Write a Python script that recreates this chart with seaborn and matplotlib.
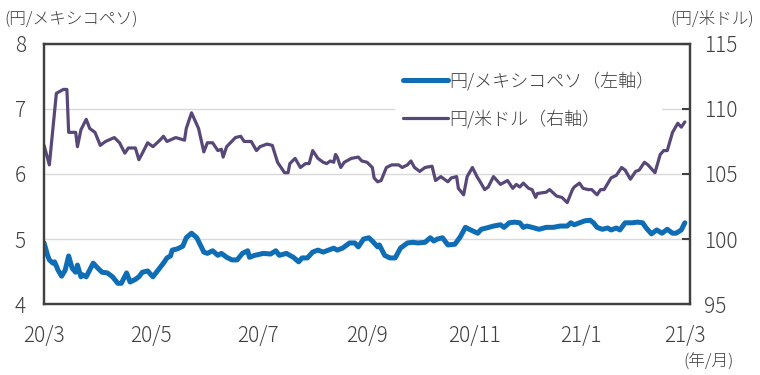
import pandas as pd
import seaborn as sns
import matplotlib.pyplot as plt
from matplotlib.lines import Line2D

# days counted from 2020-03-01
start = pd.Timestamp('2020-03-01')

mxn_days = [0, 2, 3, 5, 6, 8, 10, 12, 14, 16, 18, 19, 21, 22, 24, 28, 30, 33, 36, 39,
            42, 44, 47, 49, 52, 54, 56, 59, 62, 64, 68, 70, 72, 73, 76, 79, 81, 84, 87, 89,
            91, 93, 96, 99, 101, 104, 107, 110, 113, 116, 117, 120, 125, 129, 132, 134, 138, 142, 145, 147,
            150, 153, 156, 159, 162, 165, 167, 170, 174, 177, 179, 182, 185, 187, 190, 191, 194, 197, 200, 203,
            207, 210, 213, 217, 220, 222, 224, 227, 230, 234, 237, 240, 243, 247, 249, 252, 256, 260, 262, 265,
            268, 271, 273, 275, 278, 282, 286, 290, 294, 298, 300, 302, 305, 308, 311, 313, 315, 318, 321, 323,
            326, 328, 331, 335, 338, 341, 343, 346, 349, 352, 355, 358, 360, 363, 365]
mxn_rate = [4.94, 4.75, 4.68, 4.63, 4.65, 4.52, 4.43, 4.52, 4.74, 4.55, 4.49, 4.60, 4.42, 4.45, 4.42, 4.63, 4.57, 4.49, 4.48, 4.42,
            4.32, 4.32, 4.48, 4.34, 4.38, 4.42, 4.49, 4.51, 4.42, 4.49, 4.63, 4.71, 4.74, 4.83, 4.85, 4.89, 5.02, 5.09, 5.02, 4.91,
            4.80, 4.78, 4.82, 4.75, 4.78, 4.72, 4.68, 4.68, 4.78, 4.82, 4.72, 4.75, 4.78, 4.77, 4.82, 4.75, 4.78, 4.72, 4.65, 4.71,
            4.71, 4.80, 4.83, 4.80, 4.83, 4.86, 4.83, 4.86, 4.94, 4.94, 4.88, 5.00, 5.02, 4.97, 4.88, 4.91, 4.75, 4.71, 4.71, 4.86,
            4.94, 4.95, 4.94, 4.95, 5.02, 4.97, 5.00, 5.02, 4.91, 4.92, 5.03, 5.18, 5.14, 5.09, 5.15, 5.17, 5.20, 5.22, 5.18, 5.25,
            5.26, 5.25, 5.18, 5.20, 5.18, 5.15, 5.18, 5.18, 5.20, 5.20, 5.25, 5.22, 5.25, 5.28, 5.29, 5.25, 5.18, 5.15, 5.17, 5.14,
            5.17, 5.14, 5.25, 5.25, 5.26, 5.25, 5.17, 5.08, 5.14, 5.09, 5.15, 5.09, 5.09, 5.14, 5.25]

usd_days = [0, 3, 7, 11, 13, 14, 18, 19, 21, 24, 26, 29, 32, 35, 40, 43, 46, 48, 52, 54,
            56, 59, 62, 66, 68, 70, 75, 80, 81, 84, 88, 91, 93, 96, 99, 101, 102, 104, 109, 112,
            114, 118, 121, 123, 127, 130, 133, 137, 139, 140, 143, 146, 149, 151, 153, 156, 159, 161, 163, 165,
            166, 167, 169, 171, 175, 179, 181, 184, 187, 188, 190, 192, 195, 198, 202, 204, 207, 209, 211, 214,
            217, 221, 223, 226, 227, 230, 232, 235, 236, 239, 241, 244, 247, 248, 251, 253, 256, 260, 264, 267,
            269, 271, 273, 276, 278, 280, 281, 286, 288, 292, 295, 298, 301, 302, 305, 307, 310, 312, 315, 317,
            319, 323, 326, 329, 331, 334, 337, 339, 342, 344, 348, 351, 353, 355, 358, 361, 363, 365]
usd_rate = [107.2, 105.7, 111.2, 111.5, 111.5, 108.2, 108.2, 107.1, 108.4, 109.2, 108.5, 108.2, 107.2, 107.5, 107.8, 107.4, 106.6, 107.0, 107.0, 106.1,
            106.6, 107.4, 107.1, 107.6, 107.9, 107.5, 107.8, 107.6, 108.5, 109.7, 108.5, 106.7, 107.4, 107.4, 106.8, 106.9, 106.3, 107.1, 107.8, 107.9,
            107.5, 107.5, 106.8, 107.1, 107.3, 107.2, 105.9, 105.1, 105.1, 105.8, 106.2, 105.5, 105.8, 105.8, 106.8, 106.2, 105.9, 105.8, 106.0, 105.9,
            106.5, 106.3, 105.5, 105.9, 106.2, 106.3, 106.0, 105.9, 105.5, 104.7, 104.4, 104.5, 105.5, 105.7, 105.7, 105.5, 105.7, 106.0, 105.5, 105.2,
            105.5, 105.6, 104.5, 104.8, 104.7, 104.4, 104.7, 104.8, 103.9, 103.4, 104.8, 105.5, 104.7, 104.5, 103.8, 104.0, 104.8, 104.2, 104.5, 103.9,
            104.2, 104.0, 104.3, 103.9, 103.8, 103.2, 103.5, 103.6, 103.8, 103.3, 103.2, 102.8, 103.8, 104.0, 104.3, 103.9, 103.8, 103.8, 103.4, 103.8,
            103.8, 104.7, 104.9, 105.5, 105.3, 104.6, 105.2, 105.3, 105.9, 105.7, 105.1, 106.5, 106.8, 106.8, 108.2, 108.9, 108.6, 109.0]

tick_dates = ['2020-03-01', '2020-05-01', '2020-07-01', '2020-09-01', '2020-11-01', '2021-01-01', '2021-03-01']
tick_labels = ['20/3', '20/5', '20/7', '20/9', '20/11', '21/1', '21/3']

mxn_label = '円/メキシコペソ（左軸）'
usd_label = '円/米ドル（右軸）'

df_mxn = pd.DataFrame({'date': start + pd.to_timedelta(mxn_days, unit='D'), 'rate': mxn_rate})
df_usd = pd.DataFrame({'date': start + pd.to_timedelta(usd_days, unit='D'), 'rate': usd_rate})

sns.set_style('white')
plt.rcParams['font.family'] = ['Noto Sans CJK JP', 'DejaVu Sans']
plt.rcParams['font.weight'] = 'light'

blue = '#0F6DB5'
purple = '#574878'
dark = '#404040'

fig = plt.figure(figsize=(7.6, 3.75), dpi=100)
ax = fig.add_axes([0.058, 0.189, 0.850, 0.694])
ax2 = ax.twinx()

sns.lineplot(data=df_mxn, x='date', y='rate', ax=ax, color=blue, lw=3.6, legend=False)
sns.lineplot(data=df_usd, x='date', y='rate', ax=ax2, color=purple, lw=2.3, legend=False)

ax.set_xlim(start, start + pd.Timedelta(days=368))
ax.set_ylim(4, 8)
ax2.set_ylim(95, 115)
ax.set_yticks([4, 5, 6, 7, 8])
ax2.set_yticks([95, 100, 105, 110, 115])
ax.set_xticks(pd.to_datetime(tick_dates))
ax.set_xticklabels(tick_labels)
ax.set_xlabel('')
ax.set_ylabel('')
ax2.set_ylabel('')

ax.grid(axis='y', color='#d9d9d9', lw=1)
ax.set_axisbelow(True)

for a in (ax, ax2):
    for s in a.spines.values():
        s.set_color(dark)
        s.set_linewidth(1.6)
        s.set_visible(True)

ax.tick_params(axis='y', length=0, pad=13, labelsize=15, labelcolor=dark)
ax.tick_params(axis='x', direction='in', length=7, width=1.5, color=dark, pad=15,
               labelsize=15, labelcolor=dark)
ax2.tick_params(axis='y', direction='in', length=6, width=1.5, color=dark, pad=10,
                labelsize=15, labelcolor=dark)

handles = [Line2D([], [], color=blue, lw=3.6), Line2D([], [], color=purple, lw=2.3)]
leg = ax2.legend(handles, [mxn_label, usd_label], loc='upper left',
                 bbox_to_anchor=(0.53, 0.955), frameon=True, fontsize=13,
                 handlelength=2.5, handletextpad=0.1, labelspacing=1.05,
                 borderpad=0.4, labelcolor=dark)
leg.get_frame().set_facecolor('white')
leg.get_frame().set_edgecolor('none')
leg.get_frame().set_alpha(1)

fig.text(0.006, 0.972, '(円/メキシコペソ)', fontsize=12, color=dark, va='top', ha='left')
fig.text(0.992, 0.972, '(円/米ドル)', fontsize=12, color=dark, va='top', ha='right')
fig.text(0.966, 0.012, '(年/月)', fontsize=12, color=dark, va='bottom', ha='right')

fig.savefig('out.png', dpi=100)
